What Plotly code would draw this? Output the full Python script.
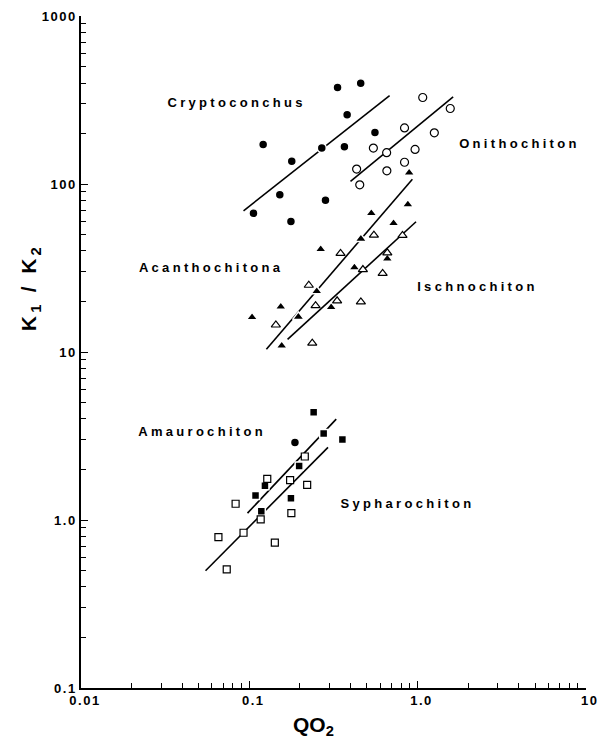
import plotly.graph_objects as go

# ---------------- data ----------------
crypto_x = [0.335, 0.46, 0.382, 0.121, 0.179, 0.270, 0.368, 0.559, 0.152, 0.284, 0.106, 0.177]
crypto_y = [376, 398, 259, 172, 137, 164, 167, 203, 86.4, 80.3, 67, 60]
crypto_fit_x = [0.0925, 0.683]
crypto_fit_y = [69.4, 337]

onitho_x = [1.075, 1.567, 0.838, 1.26, 0.547, 0.656, 0.968, 0.435, 0.658, 0.838, 0.454]
onitho_y = [328, 282, 216, 202, 164, 154, 161, 123, 120, 135, 99]
onitho_fit_x = [0.40, 1.63]
onitho_fit_y = [104, 331]

acantho_x = [0.893, 0.877, 0.532, 0.721, 0.461, 0.662, 0.422, 0.266, 0.252, 0.154, 0.104, 0.196, 0.156, 0.307]
acantho_y = [117, 75.7, 67, 58.4, 47.2, 35.9, 31.9, 40.9, 23, 18.6, 16.1, 16.2, 10.9, 18.5]
acantho_fit_x = [0.1265, 0.933]
acantho_fit_y = [10.4, 107]

ischno_x = [0.551, 0.815, 0.349, 0.662, 0.474, 0.621, 0.333, 0.461, 0.226, 0.248, 0.144, 0.237]
ischno_y = [49.7, 49.5, 38.7, 39, 31, 29.4, 20.2, 19.9, 25, 18.9, 14.5, 11.3]
ischno_fit_x = [0.169, 0.981]
ischno_fit_y = [11.9, 59.7]

amauro_x = [0.2415, 0.277, 0.358, 0.198, 0.124, 0.109, 0.118, 0.177]
amauro_y = [4.38, 3.28, 3.02, 2.10, 1.60, 1.40, 1.13, 1.35]
amauro_circ_x = [0.187]
amauro_circ_y = [2.90]
amauro_fit_x = [0.0977, 0.329]
amauro_fit_y = [1.10, 3.99]

sypha_x = [0.128, 0.214, 0.083, 0.221, 0.178, 0.0656, 0.142, 0.0735, 0.175, 0.117, 0.0925]
sypha_y = [1.76, 2.39, 1.25, 1.62, 1.10, 0.792, 0.733, 0.509, 1.73, 1.01, 0.84]
sypha_fit_x = [0.055, 0.294]
sypha_fit_y = [0.499, 2.71]

x_decades = [0.01, 0.1, 1.0, 10]
x_labels = ["0.01", "0.1", "1.0", "10"]
y_decades = [0.1, 1.0, 10, 100, 1000]
y_labels = ["0.1", "1.0", "10", "100", "1000"]

species_labels = ["Cryptoconchus", "Onithochiton", "Acanthochitona",
                  "Ischnochiton", "Amaurochiton", "Sypharochiton"]
# label centre positions (paper fraction)
label_pos = [(0.308, 0.871), (0.868, 0.810), (0.258, 0.626),
             (0.785, 0.598), (0.239, 0.381), (0.647, 0.275)]


def minor_vals(decades):
    vals = []
    for d in decades[:-1]:
        for m in range(2, 10):
            vals.append(d * m)
    return vals


fig = go.Figure()

line_style = dict(color="black", width=1.6)
for fx, fy in [(crypto_fit_x, crypto_fit_y), (onitho_fit_x, onitho_fit_y),
               (acantho_fit_x, acantho_fit_y), (ischno_fit_x, ischno_fit_y),
               (amauro_fit_x, amauro_fit_y), (sypha_fit_x, sypha_fit_y)]:
    fig.add_trace(go.Scatter(x=fx, y=fy, mode="lines", line=line_style,
                             showlegend=False, hoverinfo="skip"))

filled = dict(color="black", line=dict(color="white", width=1.5))
openm = dict(color="white", line=dict(color="black", width=1.2))

fig.add_trace(go.Scatter(x=crypto_x, y=crypto_y, mode="markers", name="Cryptoconchus",
                         marker=dict(symbol="circle", size=9, **filled)))
fig.add_trace(go.Scatter(x=onitho_x, y=onitho_y, mode="markers", name="Onithochiton",
                         marker=dict(symbol="circle", size=8, **openm)))
fig.add_trace(go.Scatter(x=acantho_x, y=acantho_y, mode="markers", name="Acanthochitona",
                         marker=dict(symbol="triangle-up", size=10, **filled)))
fig.add_trace(go.Scatter(x=ischno_x, y=ischno_y, mode="markers", name="Ischnochiton",
                         marker=dict(symbol="triangle-up", size=8, **openm)))
fig.add_trace(go.Scatter(x=amauro_x, y=amauro_y, mode="markers", name="Amaurochiton",
                         marker=dict(symbol="square", size=8, **filled)))
fig.add_trace(go.Scatter(x=amauro_circ_x, y=amauro_circ_y, mode="markers", name="Amaurochiton (circle)",
                         marker=dict(symbol="circle", size=9, **filled)))
fig.add_trace(go.Scatter(x=sypha_x, y=sypha_y, mode="markers", name="Sypharochiton",
                         marker=dict(symbol="square", size=7, **openm)))

FONT = "Liberation Sans"
for txt, (px, py) in zip(species_labels, label_pos):
    fig.add_annotation(text=txt, xref="paper", yref="paper", x=px, y=py,
                       xanchor="center", yanchor="middle", showarrow=False,
                       font=dict(family=FONT, size=13, color="black", weight="bold"))

# axis titles
fig.add_annotation(text="K<sub>1</sub> / K<sub>2</sub>", xref="paper", yref="paper",
                   x=-0.1, y=0.595, xanchor="center", yanchor="middle", textangle=-90,
                   showarrow=False, font=dict(family=FONT, size=21, color="black", weight="bold"))
fig.add_annotation(text="QO<sub>2</sub>", xref="paper", yref="paper",
                   x=0.46, y=-0.056, xanchor="center", yanchor="middle",
                   showarrow=False, font=dict(family=FONT, size=21, color="black", weight="bold"))

axis_common = dict(showline=True, linecolor="black", linewidth=1.5, showgrid=False,
                   zeroline=False, ticks="inside", ticklen=7, tickwidth=1.2, tickcolor="black",
                   mirror=False, ticklabeloverflow="allow", automargin=False,
                   tickfont=dict(family=FONT, size=13, color="black", weight="bold"))

fig.update_xaxes(type="log", range=[-2, 1.002], tickmode="array", tickvals=x_decades,
                 ticktext=x_labels, ticklabelshift=4,
                 minor=dict(ticks="inside", ticklen=5, tickwidth=1.1, tickcolor="black",
                            tickmode="array", tickvals=minor_vals(x_decades), showgrid=False),
                 **axis_common)
fig.update_yaxes(type="log", range=[-1, 3.001], tickmode="array", tickvals=y_decades,
                 ticktext=y_labels,
                 minor=dict(ticks="inside", ticklen=5, tickwidth=1.1, tickcolor="black",
                            tickmode="array", tickvals=minor_vals(y_decades), showgrid=False),
                 **axis_common)

fig.update_layout(width=597, height=748, paper_bgcolor="white", plot_bgcolor="white",
                  margin=dict(l=81, r=11, t=16, b=60, autoexpand=False), showlegend=False)

post = ("var g=document.getElementById('{plot_id}');"
        "g.querySelectorAll('.annotation-text').forEach(function(t){"
        "if(t.textContent.length>8){t.setAttribute('letter-spacing','3.3px');}});"
        "g.querySelectorAll('.xtick text, .ytick text').forEach(function(t){"
        "t.setAttribute('letter-spacing','1.5px');});")

fig.write_html("out.html", post_script=post)
